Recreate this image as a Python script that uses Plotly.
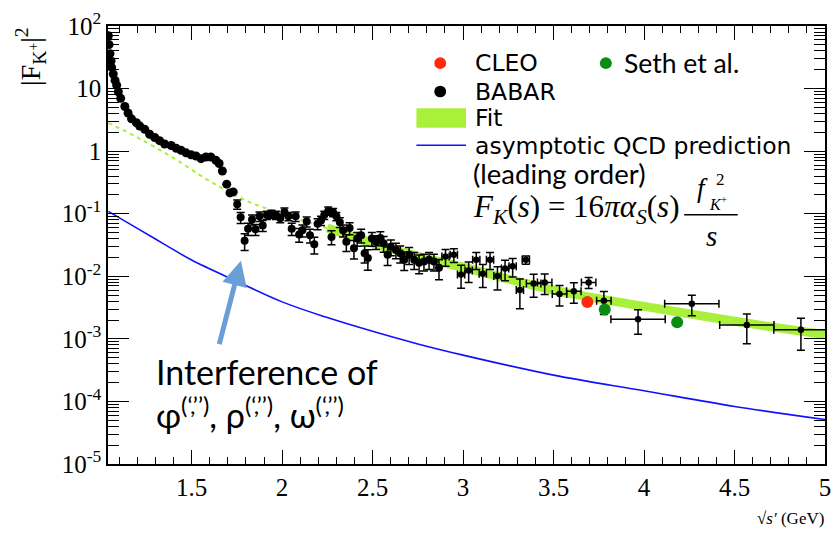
import plotly.graph_objects as go

# ---------------- data ----------------
# BABAR, low-energy region (statistical errors smaller than markers)
babar_lo_x = [1.040, 1.044, 1.049, 1.055, 1.058, 1.067, 1.077, 1.086, 1.095, 1.108,
              1.131, 1.149, 1.168, 1.195, 1.213, 1.241, 1.268, 1.296, 1.323, 1.351,
              1.387, 1.415, 1.442, 1.469, 1.497, 1.524, 1.552, 1.579, 1.606, 1.634,
              1.652, 1.670, 1.694, 1.712, 1.730]
babar_lo_y = [69.8, 50.5, 36.1, 27.7, 21.8, 17.1, 13.5, 11.3, 8.88, 6.98,
              5.18, 4.07, 3.28, 2.84, 2.52, 2.23, 1.86, 1.65, 1.47, 1.30,
              1.23, 1.11, 1.03, 0.94, 0.875, 0.835, 0.758, 0.806, 0.806, 0.716,
              0.634, 0.482, 0.297, 0.215, 0.223]

# BABAR, resonance region
babar_mid_x = [1.752, 1.771, 1.793, 1.812, 1.834, 1.853, 1.875, 1.893, 1.916, 1.941,
               1.966, 1.990, 2.013, 2.035, 2.053, 2.075, 2.094, 2.112, 2.136, 2.154,
               2.178, 2.196, 2.215, 2.233, 2.255, 2.273, 2.282, 2.300, 2.319, 2.337,
               2.355, 2.373, 2.397, 2.415, 2.437, 2.456, 2.474, 2.496, 2.519, 2.543,
               2.561, 2.583, 2.601, 2.629, 2.653, 2.675, 2.702, 2.730, 2.757, 2.784,
               2.812, 2.839, 2.867]
babar_mid_y = [0.142, 0.0875, 0.0369, 0.0577, 0.0806, 0.0562, 0.0908, 0.0649, 0.0955, 0.0989,
               0.0955, 0.0845, 0.107, 0.0908, 0.0577, 0.0908, 0.0465, 0.0542, 0.0750, 0.0453,
               0.0324, 0.0690, 0.0778, 0.0955, 0.111, 0.0426, 0.105, 0.0908, 0.0731, 0.0542,
               0.0356, 0.0589, 0.0281, 0.0402, 0.0453, 0.0234, 0.0196, 0.0402, 0.0356, 0.0411,
               0.0337, 0.0221, 0.0297, 0.0264, 0.0234, 0.0184, 0.0221, 0.0184, 0.0164, 0.0173,
               0.0184, 0.0173, 0.0137]
babar_mid_rel_err = [0.17, 0.20, 0.30, 0.22, 0.18, 0.20, 0.17, 0.20, 0.15, 0.15,
                     0.15, 0.15, 0.15, 0.15, 0.22, 0.17, 0.25, 0.22, 0.18, 0.25,
                     0.30, 0.20, 0.17, 0.15, 0.15, 0.25, 0.15, 0.15, 0.18, 0.22,
                     0.30, 0.22, 0.33, 0.25, 0.25, 0.30, 0.36, 0.25, 0.25, 0.25,
                     0.28, 0.33, 0.28, 0.28, 0.30, 0.33, 0.30, 0.30, 0.33, 0.30,
                     0.30, 0.30, 0.36]

# BABAR, high-energy region (binned, with bin half-widths)
babar_hi_x = [2.903, 2.949, 2.989, 3.031, 3.073, 3.109, 3.149, 3.190, 3.232, 3.274,
              3.314, 3.347, 3.390, 3.451, 3.533, 3.612, 3.694, 3.778, 3.967, 4.264,
              4.568, 4.867]
babar_hi_y = [0.0207, 0.0221, 0.0107, 0.0124, 0.0184, 0.0110, 0.0184, 0.0101, 0.0133, 0.0145,
              0.00604, 0.0184, 0.00769, 0.00798, 0.00523, 0.00577, 0.00798, 0.00407, 0.00205, 0.00365,
              0.00167, 0.00140]
babar_hi_rel_err = [0.30, 0.25, 0.40, 0.36, 0.30, 0.40, 0.30, 0.40, 0.36, 0.33,
                    0.50, 0.15, 0.40, 0.36, 0.36, 0.36, 0.20, 0.40, 0.42, 0.36,
                    0.50, 0.53]
babar_hi_xerr = [0.02, 0.02, 0.02, 0.02, 0.02, 0.02, 0.02, 0.02, 0.02, 0.02,
                 0.02, 0.02, 0.04, 0.04, 0.04, 0.04, 0.04, 0.04, 0.15, 0.15,
                 0.15, 0.15]

cleo_x = [3.687]
cleo_y = [0.00388]
seth_x = [3.783, 4.183]
seth_y = [0.00294, 0.00185]

# Fit curve (dashed below 2.25 GeV, band above)
fit_x = [1.04, 1.2, 1.4, 1.6, 1.8, 2.0, 2.25, 2.5, 2.75, 3.0, 3.5, 4.0, 4.5, 5.0]
fit_y = [2.84, 1.66, 0.776, 0.331, 0.162, 0.100, 0.059, 0.0339, 0.0209, 0.01396,
         0.00603, 0.00331, 0.00191, 0.00117]
fit_band_start = 2.25

# Asymptotic (leading-order) QCD prediction
qcd_x = [1.04, 1.2, 1.35, 1.5, 1.75, 2.0, 2.25, 2.5, 2.75, 3.0, 3.5, 4.0, 4.5, 5.0]
qcd_y = [0.109, 0.0582, 0.0324, 0.0182, 0.0083, 0.0039, 0.00219, 0.00132, 0.00083,
         0.00055, 0.000263, 0.000148, 0.0000832, 0.0000513]

x_ticks = [1.5, 2, 2.5, 3, 3.5, 4, 4.5, 5]
x_tick_text = ["1.5", "2", "2.5", "3", "3.5", "4", "4.5", "5"]
y_ticks = [1e2, 1e1, 1, 1e-1, 1e-2, 1e-3, 1e-4, 1e-5]
y_tick_text = ["10<sup>2</sup>", "10", "1", "10<sup>-1</sup>", "10<sup>-2</sup>",
               "10<sup>-3</sup>", "10<sup>-4</sup>", "10<sup>-5</sup>"]

# ---------------- figure ----------------
W, H = 839, 533
ML, MR, MT, MB = 108, 8, 16, 69
PW, PH = W - ML - MR, H - MT - MB


def px(x):
    return (x - ML) / PW


def py(y):
    return (H - MB - y) / PH


BLACK = "#000000"
LIME = "#a8f03a"
BLUE = "#1010ff"
RED = "#ff2a0a"
GREEN = "#0a8c12"

fig = go.Figure()

dash_x = [x for x in fit_x if x <= fit_band_start]
dash_y = [y for x, y in zip(fit_x, fit_y) if x <= fit_band_start]
band_x = [x for x in fit_x if x >= fit_band_start]
band_y = [y for x, y in zip(fit_x, fit_y) if x >= fit_band_start]

fig.add_trace(go.Scatter(x=dash_x, y=dash_y, mode="lines",
                         line=dict(color=LIME, width=2, dash="4px,4px", shape="spline")))
fig.add_trace(go.Scatter(x=band_x, y=band_y, mode="lines",
                         line=dict(color=LIME, width=9, shape="spline")))
fig.add_trace(go.Scatter(x=qcd_x, y=qcd_y, mode="lines",
                         line=dict(color=BLUE, width=1.6, shape="spline")))

fig.add_trace(go.Scatter(x=babar_lo_x, y=babar_lo_y, mode="markers",
                         marker=dict(color=BLACK, size=9, symbol="circle")))
fig.add_trace(go.Scatter(
    x=babar_mid_x, y=babar_mid_y, mode="markers",
    marker=dict(color=BLACK, size=8, symbol="circle"),
    error_y=dict(type="data", array=[y * e for y, e in zip(babar_mid_y, babar_mid_rel_err)],
                 color=BLACK, thickness=1.5, width=4)))
fig.add_trace(go.Scatter(
    x=babar_hi_x, y=babar_hi_y, mode="markers",
    marker=dict(color=BLACK, size=6.5, symbol="circle"),
    error_y=dict(type="data", array=[y * e for y, e in zip(babar_hi_y, babar_hi_rel_err)],
                 color=BLACK, thickness=1.5, width=4),
    error_x=dict(type="data", array=babar_hi_xerr, color=BLACK, thickness=1.5, width=4)))

fig.add_trace(go.Scatter(x=cleo_x, y=cleo_y, mode="markers",
                         marker=dict(color=RED, size=12)))
fig.add_trace(go.Scatter(x=seth_x, y=seth_y, mode="markers",
                         marker=dict(color=GREEN, size=12)))

tick_font = dict(family="Liberation Serif", size=25, color=BLACK)

fig.update_xaxes(range=[1.038, 5.0], showline=True, linecolor=BLACK, linewidth=1.5,
                 mirror="allticks", ticks="inside", ticklen=14, tickwidth=1.2, tickcolor=BLACK,
                 tickvals=x_ticks, ticktext=x_tick_text, tickfont=tick_font,
                 ticklabeloverflow="allow",
                 showgrid=False, zeroline=False,
                 minor=dict(ticks="inside", ticklen=7, tickwidth=1.2, tickcolor=BLACK,
                            dtick=0.1, tick0=1.0, showgrid=False))
minor_y = [m * 10 ** k for k in range(-5, 2) for m in range(2, 10)]
fig.update_yaxes(type="log", range=[-5, 2], showline=True, linecolor=BLACK, linewidth=1.5,
                 mirror="allticks", ticks="inside", ticklen=21, tickwidth=1.2, tickcolor=BLACK,
                 tickvals=y_ticks, ticktext=y_tick_text, tickfont=tick_font,
                 ticklabeloverflow="allow",
                 showgrid=False, zeroline=False,
                 minor=dict(ticks="inside", ticklen=11, tickwidth=1.2, tickcolor=BLACK,
                            tickvals=minor_y, showgrid=False))

shapes = []
# legend symbols
for cx, cy, col in [(443, 54, RED), (610, 54, GREEN), (443, 83, BLACK)]:
    shapes.append(dict(type="circle", xref="paper", yref="paper",
                       x0=px(cx - 6), x1=px(cx + 6), y0=py(cy + 6), y1=py(cy - 6),
                       fillcolor=col, line=dict(width=0)))
shapes.append(dict(type="rect", xref="paper", yref="paper",
                   x0=px(419), x1=px(469), y0=py(120), y1=py(100),
                   fillcolor=LIME, line=dict(width=0)))
shapes.append(dict(type="line", xref="paper", yref="paper",
                   x0=px(419), x1=px(469), y0=py(138), y1=py(138),
                   line=dict(color=BLUE, width=1.6)))
# fraction bar of the formula
shapes.append(dict(type="line", xref="paper", yref="paper",
                   x0=px(689), x1=px(743), y0=py(209), y1=py(209),
                   line=dict(color=BLACK, width=1.5)))

annotations = []


def label(text, x, y, size, family, xanchor="left", color=BLACK, **kw):
    annotations.append(dict(text=text, xref="paper", yref="paper", x=px(x), y=py(y),
                            xanchor=xanchor, yanchor="middle", showarrow=False,
                            font=dict(family=family, size=size, color=color), **kw))


SANS = "DejaVu Sans"
CAL = "Lato"
SERIF = "Liberation Serif"

label("CLEO", 476, 54, 23.5, SANS)
label("Seth et al.", 626, 54, 26.5, CAL)
label("BABAR", 476, 83, 23.5, SANS)
label("Fit", 476, 110, 23.5, SANS)
label("asymptotic QCD prediction", 476, 139, 23.5, SANS)
label("(leading order)", 474, 167, 27.5, CAL)
label("<i>F</i><sub><i>K</i></sub>(<i>s</i>) = 16<i>πα</i><sub><i>S</i></sub>(<i>s</i>)",
      474, 203, 31, SERIF)
label("<i>f</i>", 707, 182, 27, SERIF, xanchor="center")
label("2", 719, 173, 17, SERIF)
label("<i>K</i><sup>+</sup>", 712, 197, 16, SERIF)
label("<i>s</i>", 717, 231, 29, SERIF, xanchor="center")

label("Interference of", 154, 369, 34, CAL)
label("φ<sup>(‘,’’)</sup>, ρ<sup>(‘,’’)</sup>, ω<sup>(‘,’’)</sup>", 154, 412, 34, CAL)

label("√<i>s′</i> (GeV)", 832, 520, 17, SERIF, xanchor="right")
annotations.append(dict(text="|F<sub>K<sup>+</sup></sub>|<sup>2</sup>", xref="paper", yref="paper",
                        x=px(30), y=py(47), xanchor="center", yanchor="middle",
                        textangle=-90, showarrow=False,
                        font=dict(family=SERIF, size=28, color=BLACK)))

# arrow pointing at the interference dip
annotations.append(dict(text="", xref="paper", yref="paper", x=px(242), y=py(256),
                        ax=-22, ay=85, showarrow=True, arrowhead=2, arrowsize=1.0,
                        arrowwidth=5, arrowcolor="#6a9ed6"))

fig.update_layout(width=W, height=H, margin=dict(l=ML, r=MR, t=MT, b=MB),
                  paper_bgcolor="white", plot_bgcolor="white", showlegend=False,
                  shapes=shapes, annotations=annotations)

fig.write_html("out.html")
